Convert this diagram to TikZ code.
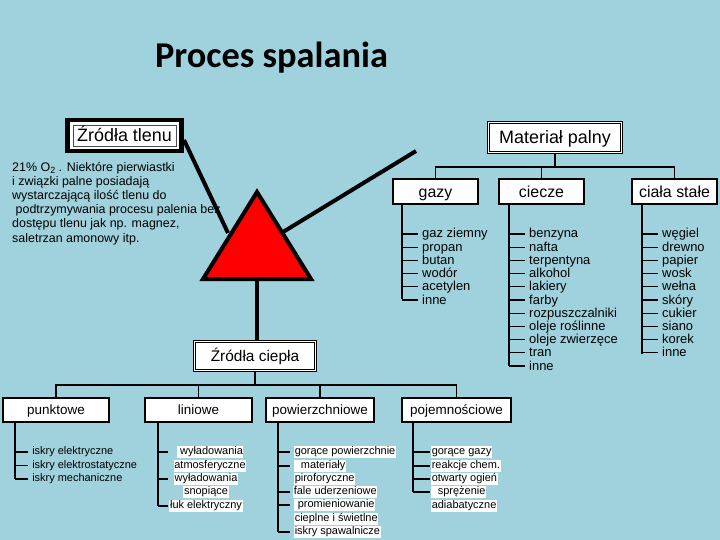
\documentclass[tikz,border=0pt]{standalone}
\usepackage{fontspec}
\setmainfont{Liberation Sans}
\newfontfamily\titlefont{Carlito}
\definecolor{bg}{RGB}{160,210,222}
\tikzset{
  sbox/.style={draw=black, fill=white, line width=1.2bp, inner sep=0pt, minimum height=25bp, font=\fontsize{16}{16}\selectfont, text height=11.5bp, text depth=0pt},
  bbox/.style={draw=black, fill=white, line width=1.8bp, inner sep=0pt, minimum height=24bp, font=\fontsize{13.5}{13.5}\selectfont, text height=9.7bp, text depth=0pt},
  dbox/.style={draw=black, fill=white, line width=0.9bp, inner sep=0pt, double=white, double distance=1.6bp},
  tree/.style={line width=1.1bp, draw=black},
  lst/.style={line width=1.8bp, draw=black},
  item/.style={anchor=west, inner sep=0pt, font=\fontsize{13}{13}\selectfont, text height=8bp, text depth=0pt},
  sitem/.style={inner sep=0.6bp, font=\fontsize{11}{11}\selectfont, text height=8bp, text depth=2.4bp},
  witem/.style={sitem, fill=white},
  thick4/.style={line width=4bp, draw=black},
}
\begin{document}
\begin{tikzpicture}[x=1bp,y=-1bp]
\useasboundingbox (0,0) rectangle (720,540);
\fill[bg] (0,0) rectangle (720,540);

% title
\node[anchor=base, inner sep=0pt, font=\titlefont\bfseries\fontsize{36.5}{36.5}\selectfont] (title) at (271.5,68) {Proces spalania};

% Zrodla tlenu box
\fill[black] (65,118) rectangle (184,153);
\fill[white] (70,122) rectangle (179,149);
\node[draw=black!70, line width=0.6bp, minimum width=103bp, minimum height=21bp, inner sep=0pt, font=\fontsize{18}{18}\selectfont, text height=13bp, text depth=0pt] (tlen) at (124.5,135.5) {Źródła tlenu};

% paragraph
\node[anchor=north west, align=left, inner sep=0pt, font=\fontsize{12.5}{14.2}\selectfont] (para) at (12,162) {21\% O\raisebox{-2.5bp}{\fontsize{9}{9}\selectfont 2} . Niektóre pierwiastki\\
i związki palne posiadają\\
wystarczającą ilość tlenu do\\
\ podtrzymywania procesu palenia bez\\
dostępu tlenu jak np. magnez,\\
saletrzan amonowy itp.};

% triangle connectors
\coordinate (tA) at (257,192);
\coordinate (tB) at (203,279);
\coordinate (tC) at (311,279);
\coordinate (tL) at (228,233);
\coordinate (tR) at (283,232);
\coordinate (tBot) at (257,279);
\coordinate (tlenEnd) at (184,140);
\coordinate (matEnd) at (416,151);
\draw[thick4] (tlenEnd) -- (tL);
\draw[thick4] (matEnd) -- (tR);

% Material palny
\node[dbox, minimum width=133bp, minimum height=30bp, font=\fontsize{18}{18}\selectfont, text height=13bp, text depth=0pt] (mat) at (555,137.5) {Materiał palny};

% Zrodla ciepla
\node[dbox, minimum width=121bp, minimum height=29bp, font=\fontsize{15.5}{15.5}\selectfont, text height=11bp, text depth=0pt] (ciep) at (255,356) {Źródła ciepła};
\draw[thick4] (tBot) -- (ciep.north -| tBot);

% triangle
\draw[line width=4bp, fill=red, line join=miter] (tA) -- (tB) -- (tC) -- cycle;

% top tree
\node[sbox, minimum width=85bp] (gazy) at (435.5,191.5) {gazy};
\node[sbox, minimum width=85bp] (ciecze) at (541.5,191.5) {ciecze};
\node[sbox, minimum width=85bp] (stale) at (674.5,191.5) {ciała stałe};
\coordinate (mj) at (555,167);
\draw[tree] (mat.south) -- (mj);
\draw[tree] (gazy.north) |- (mj) -| (stale.north);
\draw[tree] (ciecze.north) -- (ciecze.north |- mj);

% gazy list
\draw[lst] (402,204) -- (402,299);
\foreach \t [count=\i from 0] in {gaz ziemny,propan,butan,wodór,acetylen,inne} {
  \draw[tree] (402,234+13.2*\i) -- (418,234+13.2*\i);
  \node[item] (g\i) at (422,234+13.2*\i) {\t};
}
% ciecze list
\draw[lst] (509,204) -- (509,366);
\foreach \t [count=\i from 0] in {benzyna,nafta,terpentyna,alkohol,lakiery,farby,rozpuszczalniki,oleje roślinne,oleje zwierzęce,tran,inne} {
  \draw[tree] (509,234+13.2*\i) -- (525,234+13.2*\i);
  \node[item] (c\i) at (529,234+13.2*\i) {\t};
}
% stale list
\draw[lst] (642,204) -- (642,354);
\foreach \t [count=\i from 0] in {węgiel,drewno,papier,wosk,wełna,skóry,cukier,siano,korek,inne} {
  \draw[tree] (642,234+13.2*\i) -- (658,234+13.2*\i);
  \node[item] (s\i) at (662,234+13.2*\i) {\t};
}

% bottom tree
\node[bbox, minimum width=106bp] (punkt) at (56,410) {punktowe};
\node[bbox, minimum width=107bp] (lin) at (198.5,410) {liniowe};
\node[bbox, minimum width=108bp] (pow) at (320,410) {powierzchniowe};
\node[bbox, minimum width=109bp] (poj) at (456.5,410) {pojemnościowe};
\coordinate (cj) at (255,385);
\draw[tree] (ciep.south) -- (cj);
\draw[tree] (punkt.north) |- (cj) -| (poj.north);
\draw[tree] (lin.north) -- (lin.north |- cj);
\draw[tree] (pow.north) -- (pow.north |- cj);

% punktowe list
\draw[lst] (15,422) -- (15,479);
\foreach \t/\y in {iskry elektryczne/452,iskry elektrostatyczne/465.5,iskry mechaniczne/479} {
  \draw[tree] (15,\y) -- (28,\y);
  \node[sitem, anchor=west] at (31.5,\y) {\t};
}

% liniowe list
\draw[lst] (158,422) -- (158,506);
\foreach \y in {452,479,506} { \draw[tree] (158,\y) -- (168,\y); }
\node[witem] (l1) at (210,452) {\ wyładowania};
\node[witem] (l2) at (210,466) {atmosferyczne};
\node[witem] (l3) at (206,479) {wyładowania};
\node[witem] (l4) at (206,492) {snopiące};
\node[witem] (l5) at (206,506) {łuk elektryczny};

% powierzchniowe list
\draw[lst] (278,422) -- (278,532);
\foreach \y in {452,466,492,505,532} { \draw[tree] (278,\y) -- (290,\y); }
\node[witem, anchor=west] (p1) at (294,452) {gorące powierzchnie};
\node[witem, anchor=west] (p2) at (294,466) {\ \ materiały};
\node[witem, anchor=west] (p3) at (294,479) {piroforyczne};
\node[witem, anchor=west] (p4) at (293,492) {fale uderzeniowe};
\node[witem, anchor=west] (p5) at (294,505) {\ promieniowanie};
\node[witem, anchor=west] (p6) at (294,519) {cieplne i świetlne};
\node[witem, anchor=west] (p7) at (294,532) {iskry spawalnicze};

% pojemnosciowe list
\draw[lst] (413,422) -- (413,492);
\foreach \y in {452,466,479,492} { \draw[tree] (413,\y) -- (430,\y); }
\node[witem, anchor=west] (q1) at (431,452) {gorące gazy};
\node[witem, anchor=west] (q2) at (431,466) {reakcje chem.};
\node[witem, anchor=west] (q3) at (431,479) {otwarty ogień};
\node[witem, anchor=west] (q4) at (431,492) {\ \ sprężenie};
\node[witem, anchor=west] (q5) at (431,506) {adiabatyczne};
\end{tikzpicture}
\end{document}
